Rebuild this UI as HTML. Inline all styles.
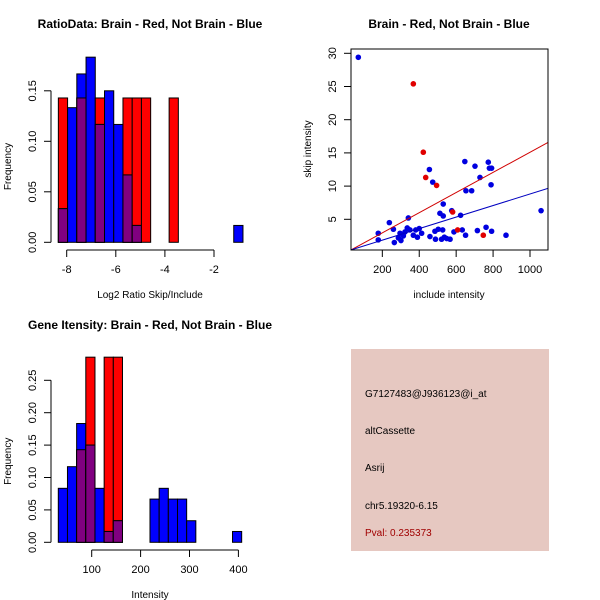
<!DOCTYPE html>
<html><head><meta charset="utf-8"><style>
body{margin:0;background:#fff;}
svg{display:block;font-family:"Liberation Sans",sans-serif;}
</style></head><body>
<svg id="c" width="600" height="600" xmlns="http://www.w3.org/2000/svg"></svg>
<script>
// ---- Panel 1: ratio histogram ----
const ratioBinStart = -8.34;
const ratioBinWidth = 0.376;
const ratioRed = [0.1429,0,0.1429,0,0.1429,0,0,0.1429,0.1429,0.1429,0,0,0.1429,0,0,0,0,0,0,0];
const ratioBlue = [0.0333,0.1333,0.1667,0.1833,0.1167,0.15,0.1167,0.0667,0.0167,0,0,0,0,0,0,0,0,0,0,0.0167];
const ratioXTicks = [-8,-6,-4,-2];
const ratioYTicks = [0,0.05,0.10,0.15];
const ratioYLabels = ["0.00","0.05","0.10","0.15"];
// ---- Panel 2: scatter ----
const blueInclude = [70,178,178,238,260,265,287,296,301,314,323,335,341,350,368,381,390,400,413,458,455,473,485,488,503,512,521,527,530,530,536,549,567,576,588,624,633,647,651,653,684,702,715,729,762,774,780,792,789,792,870,1060];
const blueSkip = [29.4,2.9,1.9,4.5,3.5,1.5,2.2,2.9,1.8,2.5,3.1,3.7,5.2,3.4,2.6,3.4,2.3,3.6,2.9,2.4,12.5,10.6,3.2,2.0,3.5,5.9,2.0,3.4,7.3,5.5,2.3,2.1,2.0,6.3,3.1,5.6,3.4,13.7,2.6,9.3,9.3,13.0,3.3,11.3,3.8,13.6,12.7,12.7,10.2,3.2,2.6,6.3];
const redInclude = [368,422,435,494,581,608,747];
const redSkip = [25.4,15.1,11.3,10.1,6.1,3.4,2.6];
const redFit = [-0.075,0.01517];
const blueFit = [0.12,0.00869];
const scatterXTicks = [200,400,600,800,1000];
const scatterYTicks = [5,10,15,20,25,30];
// ---- Panel 3: intensity histogram ----
const intBinStart = 31.7;
const intBinWidth = 18.75;
const intRed = [0,0,0.1429,0.2857,0,0.2857,0.2857,0,0,0,0,0,0,0,0,0,0,0,0,0];
const intBlue = [0.0833,0.1167,0.1833,0.15,0.0833,0.0167,0.0333,0,0,0,0.0667,0.0833,0.0667,0.0667,0.0333,0,0,0,0,0.0167];
const intXTicks = [100,200,300,400];
const intYTicks = [0,0.05,0.10,0.15,0.20,0.25];
const intYLabels = ["0.00","0.05","0.10","0.15","0.20","0.25"];

const svg = document.getElementById('c');
const NS = 'http://www.w3.org/2000/svg';
function mk(tag, attrs, parent){const e=document.createElementNS(NS,tag);for(const k in attrs)e.setAttribute(k,attrs[k]);(parent||svg).appendChild(e);return e;}
function txt(s,x,y,attrs,parent){const e=mk('text',Object.assign({x:x,y:y,'font-size':11,'text-anchor':'middle'},attrs),parent);e.textContent=s;return e;}

function histPanel(name, yScaleFn, xs, binStart, binW, red, blue, xTicks, yTicks, yLabels, title, xlab, axisY, tickLabY, titleY, xlabY){
  const g = mk('g',{});
  
  
  for(let i=0;i<red.length;i++){
    const l=xs(binStart+i*binW), r=xs(binStart+(i+1)*binW);
    const rv=red[i], bv=blue[i], m=Math.min(rv,bv);
    if(rv>0){const b=mk('rect',{x:l,y:yScaleFn(rv),width:r-l,height:yScaleFn(0)-yScaleFn(rv),fill:'#ff0000',stroke:'#000','stroke-width':1},g);
      
      }
    if(bv>0){const b=mk('rect',{x:l,y:yScaleFn(bv),width:r-l,height:yScaleFn(0)-yScaleFn(bv),fill:'#0000ff',stroke:'#000','stroke-width':1},g);
      
      }
    if(m>0){const b=mk('rect',{x:l,y:yScaleFn(m),width:r-l,height:yScaleFn(0)-yScaleFn(m),fill:'#800080',stroke:'#000','stroke-width':1},g);
      
      }
  }
  const yt=yTicks;
  mk('line',{x1:51,x2:51,y1:yScaleFn(yt[0]),y2:yScaleFn(yt[yt.length-1]),stroke:'#000'},g);
  yt.forEach((v,i)=>{const y=yScaleFn(v);mk('line',{x1:44,x2:51,y1:y,y2:y,stroke:'#000'},g);
    const t=txt(yLabels[i],36,y,{transform:`rotate(-90 36 ${y})`},g);
    
    });
  mk('line',{x1:xs(xTicks[0]),x2:xs(xTicks[xTicks.length-1]),y1:axisY,y2:axisY,stroke:'#000'},g);
  xTicks.forEach(v=>{const x=xs(v);mk('line',{x1:x,x2:x,y1:axisY,y2:axisY+7,stroke:'#000'},g);
    const t=txt(String(v),x,tickLabY,{},g);
    
    });
  const tt=txt(title,150,titleY,{'font-weight':'bold','font-size':12},g);
  
  
  const xl=txt(xlab,150,xlabY,{'font-size':10},g);
  
  
  const cy=(yScaleFn(yt[0])+yScaleFn(yt[yt.length-1]))/2;
  const yl=txt('Frequency',11,cy,{'font-size':10,transform:`rotate(-90 11 ${cy})`},g);
  
  
}

histPanel('ratio-histogram',v=>242.3-v*1010,v=>66.7+(v+8)*24.55,ratioBinStart,ratioBinWidth,ratioRed,ratioBlue,ratioXTicks,ratioYTicks,ratioYLabels,'RatioData: Brain - Red, Not Brain - Blue','Log2 Ratio Skip/Include',250,273,28,298);
histPanel('intensity-histogram',v=>542.3-v*648,v=>91.7+(v-100)*0.489,intBinStart,intBinWidth,intRed,intBlue,intXTicks,intYTicks,intYLabels,'Gene Itensity: Brain - Red, Not Brain - Blue','Intensity',550,573,329,598);

(function(){
  const g=mk('g',{});
  
  
  const sx=v=>345.4+v*0.1846, sy=v=>252.5-v*6.64;
  const L=351,R=548,T=49,B=250;
  mk('clipPath',{id:'clp'},g).appendChild(mk('rect',{x:L,y:T,width:R-L,height:B-T},g));
  const drawFit=(f,col,nm)=>{const xa=(L-345.4)/0.1846, xb=(R-345.4)/0.1846;
    const ln=mk('line',{x1:sx(xa),y1:sy(f[0]+f[1]*xa),x2:sx(xb),y2:sy(f[0]+f[1]*xb),stroke:col,'stroke-width':1,'clip-path':'url(#clp)'},g);
    
    };
  blueInclude.forEach((v,i)=>{const c=mk('circle',{cx:sx(v),cy:sy(blueSkip[i]),r:2.8,fill:'#0000e0'},g);
    
    });
  redInclude.forEach((v,i)=>{const c=mk('circle',{cx:sx(v),cy:sy(redSkip[i]),r:2.8,fill:'#e00000'},g);
    
    });
  drawFit(redFit,'#d00000','red-fit-line');
  drawFit(blueFit,'#0000c0','blue-fit-line');
  mk('rect',{x:L,y:T,width:R-L,height:B-T,fill:'none',stroke:'#000'},g);
  scatterXTicks.forEach(v=>{const x=sx(v);mk('line',{x1:x,x2:x,y1:B,y2:B+7,stroke:'#000'},g);
    const t=txt(String(v),x,273,{},g);
    
    });
  scatterYTicks.forEach(v=>{const y=sy(v);mk('line',{x1:L-7,x2:L,y1:y,y2:y,stroke:'#000'},g);
    const t=txt(String(v),L-15,y,{transform:`rotate(-90 ${L-15} ${y})`},g);
    
    });
  const tt=txt('Brain - Red, Not Brain - Blue',449,28,{'font-weight':'bold','font-size':12},g);
  
  
  const xl=txt('include intensity',449,298,{'font-size':10},g);
  
  
  const yl=txt('skip intensity',311,149,{'font-size':10,transform:'rotate(-90 311 149)'},g);
  
  
})();

(function(){
  const g=mk('g',{});
  
  
  mk('rect',{x:351,y:349,width:198,height:202,fill:'#e6c8c1'},g);
  const lines=[['G7127483@J936123@i_at',397,'#000'],['altCassette',434,'#000'],['Asrij',471,'#000'],['chr5.19320-6.15',509,'#000'],['Pval: 0.235373',536,'#a00000']];
  lines.forEach(l=>{const t=txt(l[0],365,l[1],{'text-anchor':'start','font-size':10,fill:l[2]},g);
    
    });
})();
</script>
</body></html>
